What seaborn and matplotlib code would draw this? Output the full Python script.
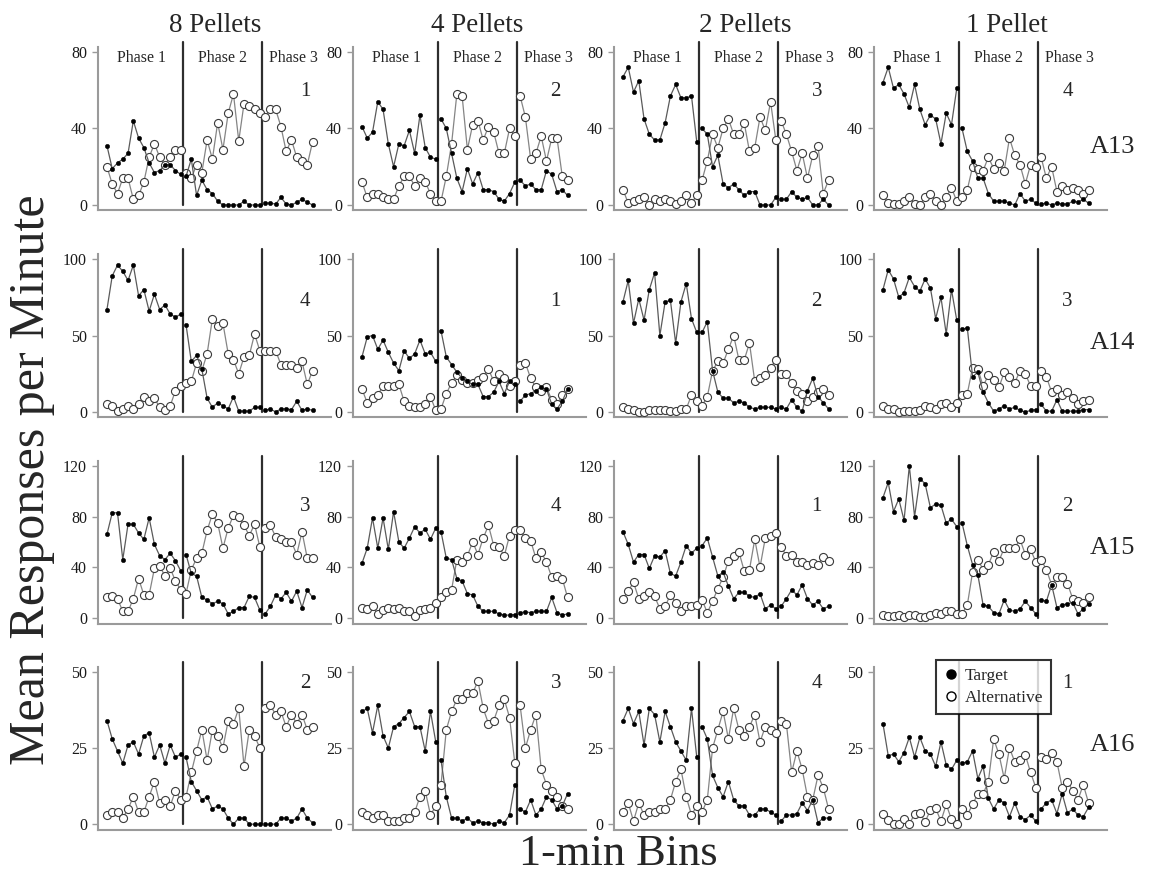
import numpy as np
import pandas as pd
import matplotlib
matplotlib.use("Agg")
import matplotlib.pyplot as plt
import seaborn as sns
from matplotlib.lines import Line2D

sns.set_theme(style="white")
plt.rcParams['font.family'] = ['Liberation Serif', 'DejaVu Serif']

subjects = ["A13", "A14", "A15", "A16"]
magnitudes = ["8 Pellets", "4 Pellets", "2 Pellets", "1 Pellet"]
phase_labels = ["Phase 1", "Phase 2", "Phase 3"]
phase_lengths = [15, 15, 10]
panel_numbers = [[1, 2, 3, 4], [4, 1, 2, 3], [3, 4, 1, 2], [2, 3, 4, 1]]
y_ticks = [[0, 40, 80], [0, 50, 100], [0, 40, 80, 120], [0, 25, 50]]
y_limits = [(-2.6, 82.6), (-3.3, 103.3), (-5.0, 124.0), (-1.9, 51.6)]

# ---- A13 ----
t_a13_8 = [31, 19, 22, 24, 27, 44, 35, 30, 22, 17, 18, 21, 21, 18, 16,
           15, 24, 5, 13, 8, 6, 2, 0, 0, 0, 0, 2, 0, 0, 0,
           1, 1, 0.5, 4, 0.5, 0, 1.5, 3, 1.5, 0]
a_a13_8 = [20, 11, 6, 14, 14, 3, 5, 12, 25, 32, 25, 21, 25, 29, 29,
           17, 14, 21, 17, 34, 24, 43, 29, 48, 58, 33.5, 53, 52, 50, 48,
           46, 50, 50, 41, 28, 34, 25, 23, 21, 33]
t_a13_4 = [41, 35, 38, 54, 50, 32, 20, 32, 31, 39, 27, 47, 30, 25, 24,
           45, 40, 27, 14, 7, 19, 11, 17, 8, 8, 7, 3, 2, 6, 12,
           13, 10, 11, 8, 8, 18, 16, 7, 8, 5]
a_a13_4 = [12, 4, 6, 6, 4, 3, 3, 10, 15, 15, 10, 14, 12, 6, 2,
           2, 15, 32, 58, 57, 29, 42, 44, 34, 41, 38, 27, 27, 40, 36,
           57, 46, 24, 27, 36, 23, 35, 35, 15, 13]
t_a13_2 = [67, 72, 59, 65, 45, 37, 34, 34, 43, 57, 63, 56, 56, 57, 33,
           40, 37, 20, 26, 11, 9, 11, 8, 5, 7, 7, 0, 0, 0, 4,
           3, 3, 7, 4, 3, 4, 0, 0, 3, 0]
a_a13_2 = [8, 1, 2, 3, 4, 0, 3, 2, 3, 2, 0.5, 2, 5, 1, 5,
           13, 23, 37, 30, 40, 45, 37, 37, 43, 28, 30, 46, 39, 54, 34,
           44, 37, 28, 18, 27, 14, 26, 31, 6, 13]
t_a13_1 = [64, 72, 61, 63, 58, 51, 63, 50, 42, 47, 45, 32, 48, 42, 61,
           40, 28, 23, 14, 14, 6, 2, 2, 2, 1, 0, 6, 2, 3, 1,
           0.5, 1, 0, 1, 0.5, 0.5, 2, 1.5, 3, 1]
a_a13_1 = [5, 1, 0.5, 0.5, 2, 4, 0.5, 0, 4, 6, 2, 0, 4, 9, 2,
           4, 8, 20, 19, 18, 25, 19, 22, 18, 35, 26, 21, 11, 21, 20,
           25, 14, 20, 7, 10, 8, 9, 8, 6, 8]

# ---- A14 ----
t_a14_8 = [67, 89, 96, 92, 86, 96, 76, 80, 66, 77, 67, 70, 64, 62, 64,
           57, 33, 37, 28, 9, 3, 6, 4, 2, 10, 0.5, 0.5, 0.5, 3, 3,
           1, 2, 0, 2, 2, 1.5, 7, 1, 2, 1]
a_a14_8 = [5, 4, 0.5, 2, 4, 2, 5, 10, 7, 9, 3, 1, 4, 14, 17,
           19, 20, 32, 27, 38, 61, 56, 58, 38, 34, 25, 36, 37, 51, 40,
           40, 40, 40, 31, 31, 31, 29, 33, 18, 27]
t_a14_4 = [36, 49, 50, 41, 47, 39, 32, 27, 40, 35, 38, 47, 38, 39, 33,
           53, 36, 31, 26, 22, 20, 18, 18, 10, 10, 13, 20, 12, 20, 18,
           7, 11, 12, 14, 16, 15, 5, 2, 7, 15]
a_a14_4 = [15, 6, 9, 11, 17, 17, 17, 18, 7, 4, 3, 3, 5, 10, 1,
           2, 12, 19, 24, 21, 19, 19, 21, 23, 28, 20, 25, 22, 17, 20,
           31, 32, 22, 16, 14, 16, 8, 5, 11, 15]
t_a14_2 = [72, 86, 58, 74, 60, 80, 91, 50, 72, 73, 45, 72, 84, 61, 52,
           52, 59, 27, 13, 9, 9, 6, 7, 6, 3, 2, 3, 3, 3, 2,
           3, 2, 8, 3, 0.5, 14, 22, 10, 6, 2]
a_a14_2 = [3, 2, 1, 0, 0, 1, 1, 1, 1, 0.5, 0.5, 2, 2, 11, 7,
           4, 10, 27, 33, 32, 41, 50, 34, 34, 45, 20, 22, 24, 29, 34,
           25, 25, 19, 14, 12, 7, 10, 13, 15, 11]
t_a14_1 = [80, 93, 87, 75, 78, 88, 82, 79, 87, 81, 61, 75, 51, 80, 60,
           54, 55, 23, 26, 13, 6, 0.5, 2, 4, 2, 3, 1, 0, 1, 1.5,
           5, 0.5, 0.5, 8, 0.5, 0.5, 0.5, 0.5, 1.5, 1.5]
a_a14_1 = [4, 2, 2, 0, 0.5, 0.5, 0.5, 1, 4, 3, 2, 5, 6, 3, 6,
           11, 12, 29, 28, 17, 24, 21, 16, 26, 23, 19, 27, 25, 17, 17,
           27, 23, 13, 15, 11, 13, 9, 5, 7, 8]

# ---- A15 ----
t_a15_8 = [66, 83, 83, 46, 74, 74, 67, 62, 79, 58, 49, 46, 51, 45, 37,
           50, 35, 33, 16, 14, 11, 13, 11, 3, 5, 8, 8, 17, 16, 6,
           3, 9, 18, 15, 20, 13, 21, 8, 22, 16]
a_a15_8 = [16, 17, 15, 5, 5, 15, 31, 18, 18, 39, 41, 33, 39, 29, 22,
           19, 38, 47, 51, 69, 82, 75, 55, 71, 81, 80, 73, 65, 74, 56,
           71, 73, 64, 62, 60, 60, 50, 68, 47, 47]
t_a15_4 = [43, 55, 79, 55, 79, 54, 84, 60, 55, 63, 72, 67, 70, 62, 71,
           68, 47, 46, 31, 29, 19, 18, 9, 5, 5, 5, 3, 2, 2, 2.5,
           4, 4.5, 4, 5, 5, 5, 16, 4, 2, 3]
a_a15_4 = [8, 7, 9, 3, 6, 8, 7, 8, 5, 5, 1, 6, 7, 8, 12,
           16, 20, 22, 46, 44, 49, 60, 50, 63, 73, 57, 56, 49, 65, 69,
           69, 63, 61, 47, 52, 44, 32, 33, 31, 16]
t_a15_2 = [68, 58, 44, 50, 50, 39, 49, 48, 53, 35, 33, 44, 57, 51, 55,
           57, 63, 48, 33, 36, 25, 15, 20, 20, 17, 16, 19, 7, 10, 7,
           9, 15, 22, 18, 26, 15, 10, 13, 7, 9]
a_a15_2 = [15, 21, 28, 15, 17, 20, 17, 7, 9, 18, 12, 5, 9, 9, 10,
           14, 4, 13, 23, 32, 45, 49, 52, 37, 38, 62, 40, 63, 65, 67,
           56, 49, 50, 44, 44, 42, 43, 42, 48, 45]
t_a15_1 = [95, 107, 84, 94, 77, 120, 80, 110, 106, 87, 90, 89, 75, 78, 72,
           75, 57, 42, 34, 10, 9, 4, 3, 14, 6, 5, 7, 13, 8, 3,
           14, 13, 26, 8, 10, 11, 12, 3, 7, 11]
a_a15_1 = [2, 1, 1, 2, 0.5, 2, 2, 0.5, 0.5, 2, 4, 3, 5, 5, 3,
           3, 10, 36, 46, 38, 42, 52, 45, 55, 55, 55, 62, 50, 54, 44,
           46, 38, 26, 32, 32, 27, 15, 13, 12, 16]

# ---- A16 ----
t_a16_8 = [34, 28, 24, 20, 26, 27, 23, 29, 30, 22, 26, 20, 26, 22, 23,
           22, 14, 11, 8, 9, 5, 6, 5, 2, 0, 2, 2, 0, 0, 0,
           0, 0, 0, 2, 2, 1, 2, 5, 2, 0.5]
a_a16_8 = [3, 4, 4, 2, 5, 9, 4, 4, 9, 14, 7, 8, 6, 11, 8,
           9, 17, 24, 31, 21, 31, 29, 25, 34, 33, 38, 19, 31, 29, 25,
           38, 39, 36, 37, 32, 36, 33, 36, 31, 32]
t_a16_4 = [37, 38, 30, 39, 29, 25, 32, 33, 35, 37, 32, 32, 24, 37, 27,
           21, 9, 2, 2, 1, 2, 0.5, 1, 0.5, 0.5, 0, 1, 0.5, 3, 13,
           5, 4, 8, 3, 5, 9, 8, 5, 6, 10]
a_a16_4 = [4, 3, 2, 3, 3, 1, 1, 1, 2, 2, 4, 9, 11, 3, 6,
           13, 31, 37, 41, 41, 43, 43, 47, 38, 33, 34, 39, 41, 35, 20,
           39, 25, 31, 36, 18, 13, 11, 9, 6, 5]
t_a16_2 = [34, 38, 33, 37, 26, 38, 36, 27, 37, 32, 27, 24, 21, 38, 22,
           32, 28, 16, 12, 9, 14, 8, 6, 6, 3, 3, 5, 5, 4, 3,
           1, 3, 3, 3.5, 7, 4.5, 8, 0.5, 2, 2]
a_a16_2 = [4, 7, 1, 7, 3, 4, 4, 5, 5, 8, 14, 18, 9, 3, 6,
           4, 8, 25, 31, 37, 28, 38, 31, 29, 32, 36, 27, 32, 31, 30,
           34, 33, 17, 24, 18, 9, 8, 16, 12, 5]
t_a16_1 = [33, 22.5, 23, 20.5, 23.5, 28.5, 22, 28.5, 24, 23, 19, 27, 19.5, 18, 21,
           20, 20.5, 24, 15, 19, 8.5, 5, 8, 7, 2.5, 7, 2.5, 1.5, 3, 1,
           5, 7, 8, 3.5, 10, 3.7, 5, 3, 2.5, 5.5]
a_a16_1 = [3.3, 1.5, 0, 0, 1.8, 0, 3.4, 3.7, 0.8, 4.6, 5.2, 1, 6.5, 1.6, 0,
           5, 3, 6.5, 10, 10, 14, 28, 23, 15, 25, 20.5, 21, 22.8, 17, 12,
           22, 21.5, 23.5, 20.5, 12, 14, 11, 8, 13, 7]

target = [[t_a13_8, t_a13_4, t_a13_2, t_a13_1],
          [t_a14_8, t_a14_4, t_a14_2, t_a14_1],
          [t_a15_8, t_a15_4, t_a15_2, t_a15_1],
          [t_a16_8, t_a16_4, t_a16_2, t_a16_1]]
alternative = [[a_a13_8, a_a13_4, a_a13_2, a_a13_1],
               [a_a14_8, a_a14_4, a_a14_2, a_a14_1],
               [a_a15_8, a_a15_4, a_a15_2, a_a15_1],
               [a_a16_8, a_a16_4, a_a16_2, a_a16_1]]

W, H = 1158, 874
fig = plt.figure(figsize=(W / 100, H / 100), dpi=100)
fig.patch.set_facecolor('white')

lefts_px = [98, 353, 614, 874]
bottoms_px = [210, 417, 624, 830]
ax_w, ax_h = 233, 163

bins = np.arange(1, sum(phase_lengths) + 1)
phase_id = np.repeat(np.arange(1, len(phase_lengths) + 1), phase_lengths)
bounds = np.cumsum(phase_lengths)[:-1] + 0.5

num_xfrac = [0.89, 0.87, 0.87, 0.83]
num_yfrac = [0.73, 0.71, 0.72, 0.90]
title_x_px = [215, 477, 745, 1007]
phase_label_x = [7.5, 23.0, 36.3]

SP = '#9a9a9a'
LINE = '#858585'

for r in range(4):
    for c in range(4):
        ax = fig.add_axes([lefts_px[c] / W, 1 - bottoms_px[r] / H, ax_w / W, ax_h / H])
        ax.set_facecolor('none')
        df_a = pd.DataFrame({'bin': bins, 'value': alternative[r][c], 'phase': phase_id})
        df_t = pd.DataFrame({'bin': bins, 'value': target[r][c], 'phase': phase_id})
        sns.lineplot(data=df_a, x='bin', y='value', units='phase', estimator=None,
                     ax=ax, color=LINE, lw=0.9, marker='o', markersize=5.8,
                     markerfacecolor='white', markeredgecolor='#3a3a3a',
                     markeredgewidth=0.8, zorder=3)
        sns.lineplot(data=df_t, x='bin', y='value', units='phase', estimator=None,
                     ax=ax, color='#5a5a5a', lw=0.9, marker='o', markersize=3.2,
                     markerfacecolor='black', markeredgecolor='black',
                     markeredgewidth=0.3, zorder=4)
        ylo, yhi = y_limits[r]
        for b in bounds:
            ax.plot([b, b], [0, yhi + (yhi - ylo) * 0.03], color='#2e2e2e',
                    lw=1.6, clip_on=False, zorder=2)
        ax.set_xlim(-0.7, 43.5)
        ax.set_ylim(ylo, yhi)
        ax.set_yticks(y_ticks[r])
        ax.set_xticks([])
        ax.set_xlabel('')
        ax.set_ylabel('')
        for s in ['top', 'right']:
            ax.spines[s].set_visible(False)
        for s in ['left', 'bottom']:
            ax.spines[s].set_color(SP)
            ax.spines[s].set_linewidth(1.5)
        ax.tick_params(axis='y', left=True, length=4, width=1, color=SP,
                       labelsize=11.5, pad=4, labelcolor='#1a1a1a')
        ax.text(num_xfrac[c], num_yfrac[r], str(panel_numbers[r][c]),
                transform=ax.transAxes, ha='center', va='center', fontsize=15)
        if r == 0:
            for lx, lab in zip(phase_label_x, phase_labels):
                ax.text(lx, 77, lab, ha='center', va='center', fontsize=11.5)
        if r == 3 and c == 3:
            handles = [Line2D([], [], ls='none', marker='o', ms=6.5, mfc='black', mec='black'),
                       Line2D([], [], ls='none', marker='o', ms=6.5, mfc='white', mec='black', mew=1)]
            leg = ax.legend(handles, ['Target', 'Alternative'], loc='upper left',
                            bbox_to_anchor=(0.265, 1.045), borderaxespad=0,
                            frameon=True, fancybox=False, fontsize=12.5,
                            handlelength=0.8, handletextpad=0.4, labelspacing=0.35,
                            borderpad=0.45)
            leg.get_frame().set_edgecolor('black')
            leg.get_frame().set_linewidth(1.5)
            leg.set_zorder(10)

for c in range(4):
    fig.text(title_x_px[c] / W, 1 - 25 / H, magnitudes[c], ha='center', va='center', fontsize=19.5)

row_label_y = [147, 343, 548, 745]
for r in range(4):
    fig.text(1090 / W, 1 - row_label_y[r] / H, subjects[r], ha='left', va='center', fontsize=19)

fig.text(32 / W, 1 - 480 / H, 'Mean Responses per Minute', rotation=90,
         ha='center', va='center', fontsize=36)
fig.text(618 / W, 1 - 854 / H, '1-min Bins', ha='center', va='center', fontsize=32)

fig.savefig('out.png', dpi=100)
